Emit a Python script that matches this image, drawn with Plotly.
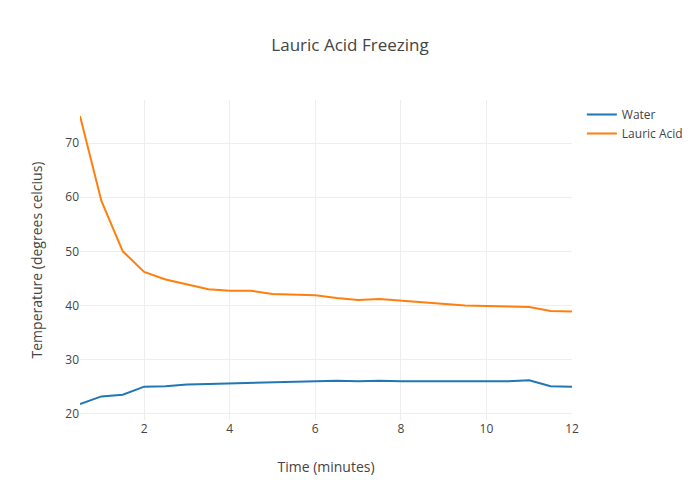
import plotly.graph_objects as go

time_min = [0.5, 1, 1.5, 2, 2.5, 3, 3.5, 4, 4.5, 5, 5.5, 6, 6.5, 7, 7.5, 8,
            8.5, 9, 9.5, 10, 10.5, 11, 11.5, 12]
water = [21.8, 23.2, 23.5, 25.0, 25.1, 25.4, 25.5, 25.6, 25.8, 25.9, 26.0, 26.0,
         26.1, 26.0, 26.1, 26.0, 26.0, 26.0, 26.0, 26.0, 26.0, 26.2, 25.1, 25.0]
lauric = [75.0, 59.3, 50.0, 46.2, 44.8, 43.9, 43.0, 42.7, 42.7, 42.1, 42.0, 41.9,
          41.4, 41.0, 41.2, 40.9, 40.6, 40.3, 40.0, 39.9, 39.8, 39.7, 39.0, 38.9]

fig = go.Figure()
fig.add_trace(go.Scatter(x=time_min, y=water, mode="lines", name="Water",
                         line=dict(color="#1f77b4", width=2)))
fig.add_trace(go.Scatter(x=time_min, y=lauric, mode="lines", name="Lauric Acid",
                         line=dict(color="#ff7f0e", width=2)))

fig.update_layout(
    width=700, height=500,
    template="none",
    font=dict(family="Open Sans", size=12, color="#444"),
    title=dict(text="Lauric Acid Freezing", x=0.5, xanchor="center", y=0.922,
               font=dict(size=17)),
    margin=dict(l=80, r=80, t=100, b=80),
    paper_bgcolor="white", plot_bgcolor="white",
    xaxis=dict(title=dict(text="Time (minutes)"), gridcolor="#eee", zeroline=False,
               showline=False, ticks="", dtick=2, range=[0.5, 12]),
    yaxis=dict(title=dict(text="Temperature (degrees celcius)"), gridcolor="#eee",
               zeroline=False, showline=False, ticks="", dtick=10),
    legend=dict(x=1.02, y=1, font=dict(size=12)),
)

fig.write_html("out.html", config={"displayModeBar": False},
               post_script="document.body.style.margin='0px';")
